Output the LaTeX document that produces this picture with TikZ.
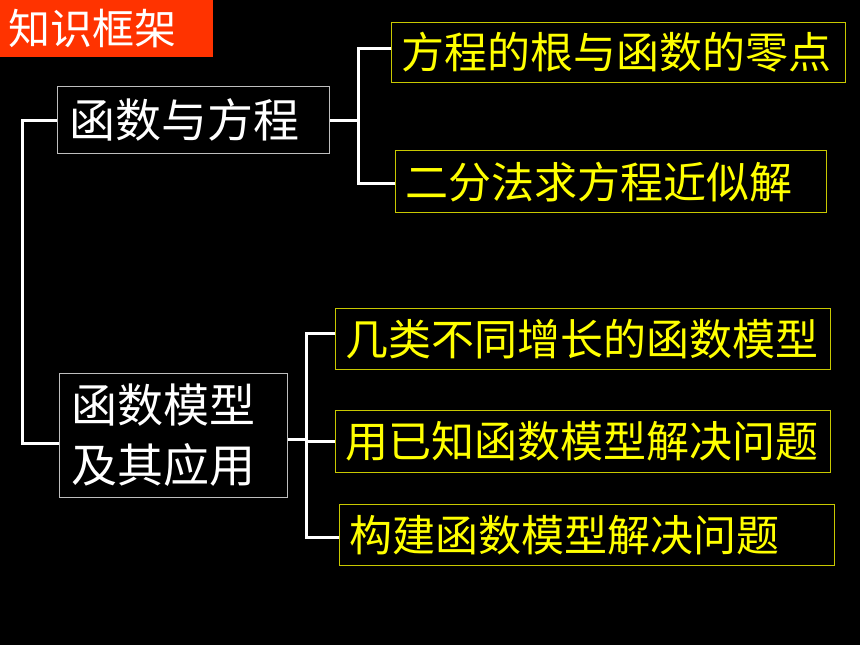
\documentclass[tikz,border=0pt]{standalone}
\usepackage{fontspec}
\newfontfamily\cjk{Noto Sans CJK SC}
\usetikzlibrary{positioning}
\definecolor{titlered}{RGB}{255,51,0}
\definecolor{subyellow}{RGB}{255,255,0}
\definecolor{subframe}{RGB}{200,200,0}
\definecolor{topicframe}{RGB}{190,190,190}
\tikzset{
  titlebox/.style={fill=titlered, anchor=north west, minimum width=213pt, minimum height=57pt,
    inner xsep=8pt, inner ysep=0pt, text width=197pt, align=left, text=white,
    font=\cjk\fontsize{42}{50}\selectfont},
  topicbox/.style n args={2}{draw=topicframe, line width=1.2pt, anchor=north west,
    inner xsep=12pt, inner ysep=0pt, text width=#1, minimum height=#2, align=left,
    text=white, font=\cjk\fontsize{46}{60}\selectfont},
  subbox/.style n args={2}{draw=subframe, line width=1.2pt, anchor=north west,
    inner xsep=10pt, inner ysep=0pt, text width=#1, minimum height=#2, align=left,
    text=subyellow, font=\cjk\fontsize{43}{50}\selectfont},
  link/.style={draw=white, line width=3pt}
}
\begin{document}
\begin{tikzpicture}[x=1pt,y=-1pt]
\fill[black] (0,0) rectangle (860,645);
\useasboundingbox (0,0) rectangle (860,645);

\node[titlebox] (title) at (0,0) {知识框架};

% two main topics
\node[topicbox={248pt}{67pt}] (fe) at (57,86) {函数与方程};
\node[topicbox={204pt}{124pt}] (fm) at (59,373) {函数模型\\及其应用};

% sub topics
\node[subbox={434pt}{60pt}] (roots) at (391,22) {方程的根与函数的零点};
\node[subbox={411pt}{62pt}] (bisect) at (395,150) {二分法求方程近似解};
\node[subbox={475pt}{61pt}] (growth) at (335,308) {几类不同增长的函数模型};
\node[subbox={475pt}{62pt}] (known) at (335,410) {用已知函数模型解决问题};
\node[subbox={475pt}{61pt}] (build) at (339,504) {构建函数模型解决问题};

% brackets
\draw[link] (fe.west) -- ++(-35,0) |- ([yshift=-8pt]fm.west);
\draw[link] (fe.east) -- ++(28,0) coordinate (feJ);
\draw[link] (feJ) |- ([yshift=4pt]roots.west);
\draw[link] (feJ) |- ([yshift=-2pt]bisect.west);
\draw[link] ([yshift=-4pt]fm.east) -- ++(18,0) coordinate (fmJ);
\draw[link] (fmJ) |- ([yshift=6pt]growth.west);
\draw[link] (fmJ) |- (known.west);
\draw[link] (fmJ) |- ([yshift=-2pt]build.west);
\end{tikzpicture}
\end{document}
